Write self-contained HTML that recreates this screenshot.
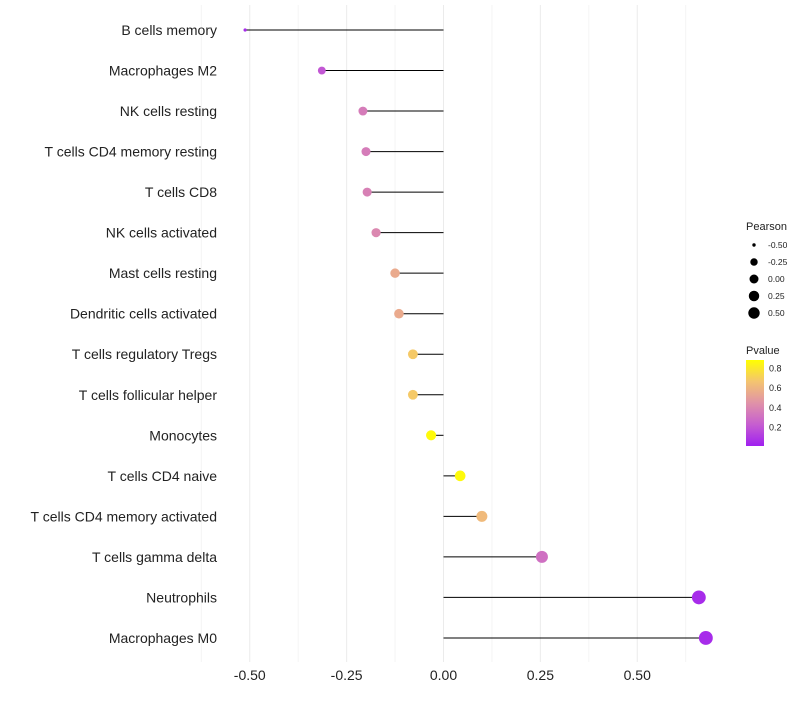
<!DOCTYPE html>
<html><head><meta charset="utf-8"><style>
body{margin:0;background:#fff;font-family:"Liberation Sans",Arial,sans-serif;}
</style></head><body>
<svg id="chart" width="800" height="700" xmlns="http://www.w3.org/2000/svg" font-family="Liberation Sans, Arial, sans-serif">
<defs><linearGradient id="pg" x1="0" y1="1" x2="0" y2="0">
<stop offset="0" stop-color="#A020F0"/><stop offset="0.25" stop-color="#C65ED0"/><stop offset="0.5" stop-color="#E092A8"/><stop offset="0.75" stop-color="#F4C470"/><stop offset="1" stop-color="#FFFF00"/></linearGradient></defs>
<g id="grid"></g><g id="marks"></g><g id="labels"></g><g id="legend"></g>
</svg>
<script>
const categories=["B cells memory","Macrophages M2","NK cells resting","T cells CD4 memory resting","T cells CD8","NK cells activated","Mast cells resting","Dendritic cells activated","T cells regulatory  Tregs ","T cells follicular helper","Monocytes","T cells CD4 naive","T cells CD4 memory activated","T cells gamma delta","Neutrophils","Macrophages M0"];
const pearson=[-0.512,-0.314,-0.208,-0.200,-0.197,-0.174,-0.125,-0.115,-0.079,-0.079,-0.032,0.043,0.099,0.254,0.659,0.677];
const pvalue=[0.05,0.2,0.35,0.35,0.37,0.4,0.55,0.55,0.68,0.68,0.86,0.86,0.62,0.3,0.05,0.05];
const xTicks=[-0.5,-0.25,0,0.25,0.5];
const xTickLabels=["-0.50","-0.25","0.00","0.25","0.50"];
const sizeLegend=[-0.5,-0.25,0,0.25,0.5];
const sizeLegendLabels=["-0.50","-0.25","0.00","0.25","0.50"];
const pTicks=[0.2,0.4,0.6,0.8];
const NS="http://www.w3.org/2000/svg";
const x=v=>443.5+v*387.5;
const y=i=>30+i*40.53;
const rA=[[-0.52,1.5],[-0.31,4],[-0.2,4.5],[0.25,6],[0.7,7]];
function r(v){if(v<=rA[0][0])return rA[0][1];for(let k=1;k<rA.length;k++){if(v<=rA[k][0]){const a=rA[k-1],b=rA[k];return a[1]+(b[1]-a[1])*(v-a[0])/(b[0]-a[0]);}}return rA[rA.length-1][1];}
const pMin=0.007,pMax=0.88;
const stops=[[0,[160,32,240]],[0.25,[198,94,208]],[0.5,[224,146,168]],[0.75,[244,196,112]],[1,[255,255,0]]];
function col(p){let t=Math.min(1,Math.max(0,(p-pMin)/(pMax-pMin)));for(let k=1;k<stops.length;k++){if(t<=stops[k][0]){const a=stops[k-1],b=stops[k],f=(t-a[0])/(b[0]-a[0]);return "rgb("+a[1].map((c,j)=>Math.round(c+(b[1][j]-c)*f)).join(",")+")";}}return "rgb(255,255,0)";}
function mk(tag,attrs,parent,text){const e=document.createElementNS(NS,tag);for(const k in attrs)e.setAttribute(k,attrs[k]);if(text!==undefined)e.textContent=text;parent.appendChild(e);return e;}
const grid=document.getElementById('grid'),marks=document.getElementById('marks'),labels=document.getElementById('labels'),legend=document.getElementById('legend');
for(let v=-0.625;v<=0.626;v+=0.125){const g=mk('line',{x1:x(v),x2:x(v),y1:5,y2:662,stroke:Math.abs(v*4-Math.round(v*4))<1e-6?'#ebebeb':'#f4f4f4','stroke-width':1},grid);

}
xTicks.forEach((v,i)=>{const t=mk('text',{x:x(v),y:680,'text-anchor':'middle','font-size':14,fill:'#222'},labels,xTickLabels[i]);

});
categories.forEach((c,i)=>{
const t=mk('text',{x:217,y:y(i)+5,'text-anchor':'end','font-size':14,fill:'#222'},labels,c);


const l=mk('line',{x1:x(0),x2:x(pearson[i]),y1:y(i),y2:y(i),stroke:'#000','stroke-width':1},marks);


const d=mk('circle',{cx:x(pearson[i]),cy:y(i),r:r(pearson[i]),fill:col(pvalue[i])},marks);

});
const lt=mk('text',{x:746,y:230,'font-size':11,fill:'#222'},legend,'Pearson');


sizeLegend.forEach((v,i)=>{const cy=245+i*17;
const c=mk('circle',{cx:754,cy:cy,r:Math.max(1.7,r(v)*0.87),fill:'#000'},legend);


const t=mk('text',{x:768,y:cy+3,'font-size':8.5,fill:'#222'},legend,sizeLegendLabels[i]);

});
const pt=mk('text',{x:746,y:354,'font-size':11,fill:'#222'},legend,'Pvalue');


const bar=mk('rect',{x:746,y:360,width:18,height:86,fill:'url(#pg)'},legend);


const py=p=>446-(p-pMin)/(pMax-pMin)*86;
pTicks.forEach(p=>{const t=mk('text',{x:769,y:py(p)+3.5,'font-size':9,fill:'#222'},legend,p.toFixed(1));

});
</script>
</body></html>
